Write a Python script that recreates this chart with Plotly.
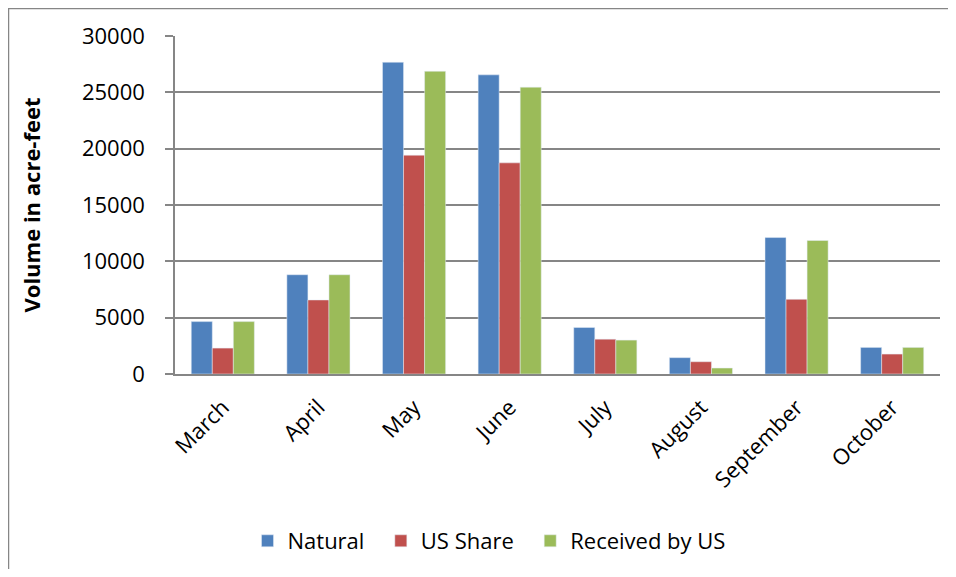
import plotly.graph_objects as go

# monthly volumes (acre-feet)
months = ["March", "April", "May", "June", "July", "August", "September", "October"]
natural = [4650, 8810, 27670, 26550, 4130, 1450, 12110, 2360]
us_share = [2300, 6570, 19420, 18740, 3090, 1090, 6630, 1770]
received_by_us = [4650, 8810, 26870, 25460, 3010, 530, 11850, 2360]

y_ticks = [0, 5000, 10000, 15000, 20000, 25000, 30000]

blue = "#4F81BD"
red = "#C0504D"
green = "#9BBB59"
grey = "#868686"
font = "Open Sans, Liberation Sans, sans-serif"

# the page body adds an 8px margin, so the figure is drawn 8px in
W, H = 940, 561
left, right, top, bottom = 167, 932, 28, 367
pw, ph = right - left, bottom - top


def px_x(x):
    return (x - left) / pw


def px_y(y):
    return (bottom - y) / ph


pad = "\u00a0\u00a0"  # a little extra room between legend entries

fig = go.Figure()
fig.add_trace(go.Bar(x=months, y=natural, name="Natural" + pad, marker_color=blue))
fig.add_trace(go.Bar(x=months, y=us_share, name="US Share" + pad, marker_color=red))
fig.add_trace(go.Bar(x=months, y=received_by_us, name="Received by US", marker_color=green))

fig.update_layout(
    width=W, height=H,
    margin=dict(l=left, r=W - right, t=top, b=H - bottom),
    paper_bgcolor="white", plot_bgcolor="white",
    barmode="group", bargap=0.34, bargroupgap=0,
    font=dict(family=font, size=22, color="black"),
    showlegend=True,
    legend=dict(orientation="h", x=px_x(481), xanchor="center",
                y=px_y(533), yanchor="middle",
                font=dict(size=22), itemwidth=30, traceorder="normal"),
    shapes=[dict(type="rect", xref="paper", yref="paper",
                 x0=px_x(0.5), x1=px_x(W + 5), y0=px_y(0.5), y1=px_y(H + 5),
                 line=dict(color=grey, width=1.5), layer="below")],
)

fig.update_yaxes(
    range=[0, 30000], tickvals=y_ticks, tickformat="d",
    showgrid=True, gridcolor=grey, gridwidth=1.5,
    showline=True, linecolor=grey, linewidth=1.5,
    ticks="outside", ticklen=8, tickcolor=grey, tickwidth=1.5,
    ticklabelstandoff=16,
    tickfont=dict(size=22),
    zeroline=False,
    title=dict(text="<b>Volume in acre-feet</b>", font=dict(size=22), standoff=35),
)

fig.update_xaxes(
    showline=True, linecolor=grey, linewidth=1.5,
    tickangle=-45, tickfont=dict(size=22),
    ticks="", ticklabelstandoff=10,
    showgrid=False,
)

fig.write_html("out.html")
